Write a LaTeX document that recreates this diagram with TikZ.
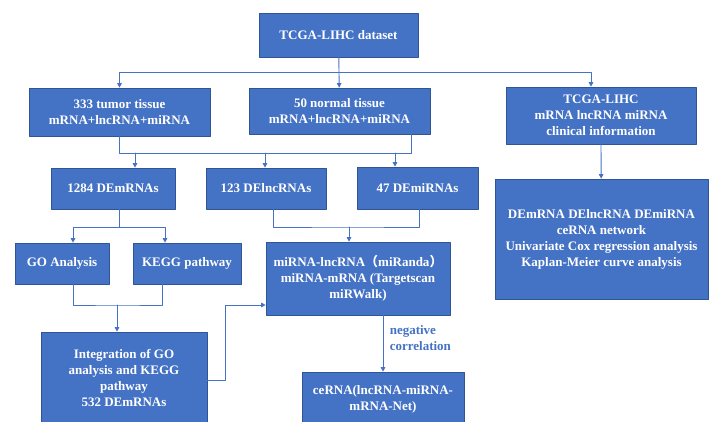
\documentclass[tikz,border=0pt]{standalone}
\usepackage{fontspec}
\setmainfont{Liberation Serif}
\newfontfamily\cjk{Noto Sans CJK SC}
\usetikzlibrary{arrows.meta}
\definecolor{boxblue}{HTML}{4472C4}
\definecolor{edgeblue}{HTML}{2F5597}
\tikzset{
  box/.style={draw=edgeblue,line width=0.6pt,fill=boxblue,text=white,align=center,
    inner sep=0pt,font=\fontsize{13}{16}\selectfont\bfseries},
  flow/.style={draw=boxblue,line width=0.9pt},
  arr/.style={flow,-{Triangle[width=4.5pt,length=4.5pt]}}
}
\begin{document}
\begin{tikzpicture}[line cap=round,line join=round,x=1pt,y=-1pt]
\useasboundingbox (0,0) rectangle (710,422);

\node[box,minimum width=159pt,minimum height=44pt] (data) at (338.5,35) {TCGA-LIHC dataset};
\node[box,minimum width=181pt,minimum height=48pt] (tumor) at (119.5,112) {333 tumor tissue\\mRNA+lncRNA+miRNA};
\node[box,minimum width=181pt,minimum height=46pt] (normal) at (339.5,111) {50 normal tissue\\mRNA+lncRNA+miRNA};
\node[box,minimum width=190pt,minimum height=57pt] (clin) at (601,115.5) {TCGA-LIHC\\mRNA lncRNA miRNA\\clinical information};

\node[box,minimum width=124pt,minimum height=41pt] (dem) at (113,188.5) {1284 DEmRNAs};
\node[box,minimum width=120pt,minimum height=41pt] (delnc) at (266,188.5) {123 DElncRNAs};
\node[box,minimum width=121pt,minimum height=42pt] (demi) at (417.5,188) {47 DEmiRNAs};
\node[box,minimum width=213pt,minimum height=120pt] (net) at (601.5,239) {DEmRNA DElncRNA DEmiRNA\\ceRNA network\\Univariate Cox regression analysis\\Kaplan-Meier curve analysis};

\node[box,minimum width=94pt,minimum height=41pt] (go) at (62,263.5) {GO Analysis};
\node[box,minimum width=108pt,minimum height=41pt] (kegg) at (187,263.5) {KEGG pathway};
\node[box,minimum width=184pt,minimum height=73pt] (mir) at (358,278.5) {miRNA-lncRNA{\cjk（}miRanda{\cjk）}\\miRNA-mRNA (Targetscan\\miRWalk)};

\node[box,minimum width=166pt,minimum height=92pt] (integ) at (124,378) {Integration of GO\\analysis and KEGG\\pathway\\532 DEmRNAs};
\node[box,minimum width=162pt,minimum height=54pt] (cerna) at (383,399) {ceRNA(lncRNA-miRNA-\\mRNA-Net)};

% top level split
\coordinate (s1) at (339,72);
\draw[flow] (data) -- (s1);
\draw[arr] (s1) -| (tumor);
\draw[arr] (s1) -- (normal);
\draw[arr] (s1) -| ([xshift=-10pt]clin.north);
\draw[arr] (clin.south) -- (net);

% merge tumor + normal
\coordinate (s2) at (411,153);
\draw[flow] (tumor) |- (s2) -- ([xshift=71.5pt]normal.south);
\draw[arr] (s2 -| 135,0) -- ([xshift=22pt]dem.north);
\draw[arr] (s2 -| 265,0) -- ([xshift=-1pt]delnc.north);
\draw[arr] (s2 -| 395,0) -- ([xshift=-22.5pt]demi.north);

% enrichment
\coordinate (s3) at (119,227);
\draw[flow] ([xshift=6pt]dem.south) -- (s3);
\draw[arr] (s3) -| ([xshift=11pt]go.north);
\draw[arr] (s3) -| ([xshift=-22pt]kegg.north);
\coordinate (s4) at (117,305);
\draw[flow] ([xshift=11pt]go.south) |- (s4) -| ([xshift=-25pt]kegg.south);
\draw[arr] (s4) -- ([xshift=-7pt]integ.north);

% target prediction
\coordinate (s5) at (349,227);
\draw[flow] ([xshift=7pt]delnc.south) |- (s5) -| ([xshift=1.5pt]demi.south);
\draw[arr] (s5) -- ([xshift=-9pt]mir.north);
\coordinate (s6) at (225,305);
\draw[arr] ([yshift=-2pt]integ.east) -| (s6) -- ([yshift=-26.5pt]mir.west);

\draw[arr] ([xshift=25pt]mir.south) -- (cerna.north)
  node[pos=0.4,right=3pt,align=left,text=boxblue,font=\fontsize{13}{16}\selectfont\bfseries] (neg) {negative\\correlation};
\end{tikzpicture}
\end{document}
